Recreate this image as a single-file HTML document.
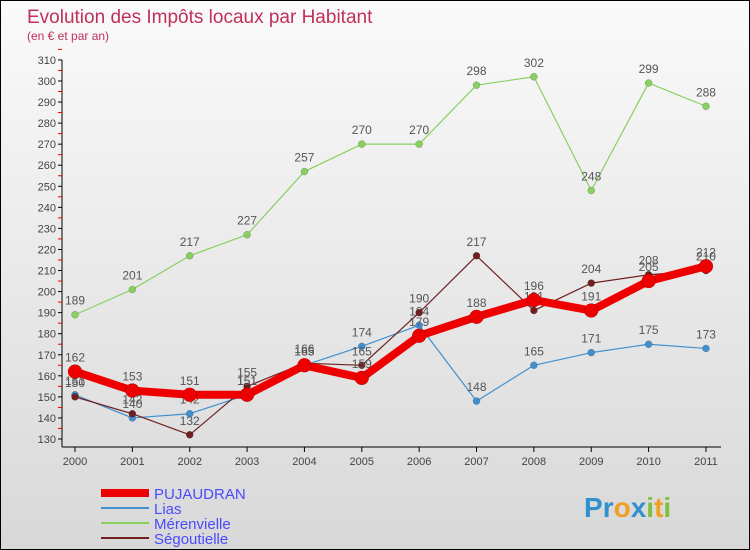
<!DOCTYPE html>
<html><head><meta charset="utf-8"><style>
body{margin:0;width:750px;height:550px;overflow:hidden;font-family:"Liberation Sans",sans-serif}
#wrap{position:relative;width:748px;height:548px;border:1px solid #000;background:linear-gradient(#fafafa,#d8d8d8)}
</style></head><body>
<div id="wrap">
<svg id="chart" width="748" height="548" style="position:absolute;left:0;top:0"></svg>
</div>
<script>
const years=["2000","2001","2002","2003","2004","2005","2006","2007","2008","2009","2010","2011"];
const pujaudran=[162,153,151,151,165,159,179,188,196,191,205,212];
const lias=[151,140,142,151,165,174,184,148,165,171,175,173];
const merenvielle=[189,201,217,227,257,270,270,298,302,248,299,288];
const segoutielle=[150,142,132,155,166,165,190,217,191,204,208,210];
const yTicks=[130,140,150,160,170,180,190,200,210,220,230,240,250,260,270,280,290,300,310];
const NS="http://www.w3.org/2000/svg";
const svg=document.getElementById('chart');
const x=i=>74+i*57.36;
const y=v=>438-(v-130)*2.106;
function el(t,a,p){const e=document.createElementNS(NS,t);for(const k in a)e.setAttribute(k,a[k]);(p||svg).appendChild(e);return e;}
function txt(s,a){const e=el('text',a);e.textContent=s;return e;}
const t1=txt("Evolution des Impôts locaux par Habitant",{x:26,y:22,fill:"#c0305a","font-size":19});


const t2=txt("(en € et par an)",{x:26,y:39,fill:"#c0305a","font-size":12});


const ax=el('line',{x1:61,y1:y(310),x2:61,y2:446,stroke:"#000"});


const xa=el('line',{x1:61,y1:446,x2:720,y2:446,stroke:"#000"});


yTicks.forEach(v=>{
 el('line',{x1:57,y1:y(v),x2:61,y2:y(v),stroke:"#000"});
 el('line',{x1:57,y1:y(v+5),x2:61,y2:y(v+5),stroke:"#e00"});
 const l=txt(v,{x:55,y:y(v)+4,"text-anchor":"end","font-size":11,fill:"#444"});
 
 
});
years.forEach((yr,i)=>{
 el('line',{x1:x(i),y1:446,x2:x(i),y2:451,stroke:"#000"});
 const l=txt(yr,{x:x(i),y:464,"text-anchor":"middle","font-size":11,fill:"#444"});
 
 
});
function series(data,color,w,r,name){
 const g=el('g',{});
 
 
 el('polyline',{points:data.map((v,i)=>x(i)+","+y(v)).join(" "),fill:"none",stroke:color,"stroke-width":w,"stroke-linejoin":"round"},g);
 data.forEach((v,i)=>{
  const c=el('circle',{cx:x(i),cy:y(v),r:r,fill:color,stroke:"rgba(0,0,0,0.3)","stroke-width":0.5},g);
  
  
  const l=txt(v,{x:x(i),y:y(v)-10,"text-anchor":"middle","font-size":12,fill:"#555"});
  
  
 });
}
series(merenvielle,"#88d060",1.2,3.5,"merenvielle");
series(lias,"#4090d0",1.2,3.5,"lias");
series(segoutielle,"#702020",1.2,3.5,"segoutielle");
series(pujaudran,"#ee0000",8,7,"pujaudran");
const leg=[["PUJAUDRAN","#ee0000",8],["Lias","#4090d0",2],["Mérenvielle","#88d060",2],["Ségoutielle","#702020",2]];
leg.forEach((d,i)=>{
 const g=el('g',{});
 
 
 const yy=492+i*15;
 el('line',{x1:100,y1:yy,x2:148,y2:yy,stroke:d[1],"stroke-width":d[2]},g);
 const t=txt(d[0],{x:153,y:yy+6,"font-size":15,fill:"#4a4aff"});g.appendChild(t);
});
const p=txt("",{x:583,y:516,"font-size":28,"font-weight":"bold"});


[["P","#3090d0"],["r","#3090d0"],["o","#f0a020"],["x","#3090d0"],["i","#80c040"],["t","#f0a020"],["i","#80c040"]].forEach(c=>{const s=el('tspan',{fill:c[1]},p);s.textContent=c[0];});
</script>
</body></html>
